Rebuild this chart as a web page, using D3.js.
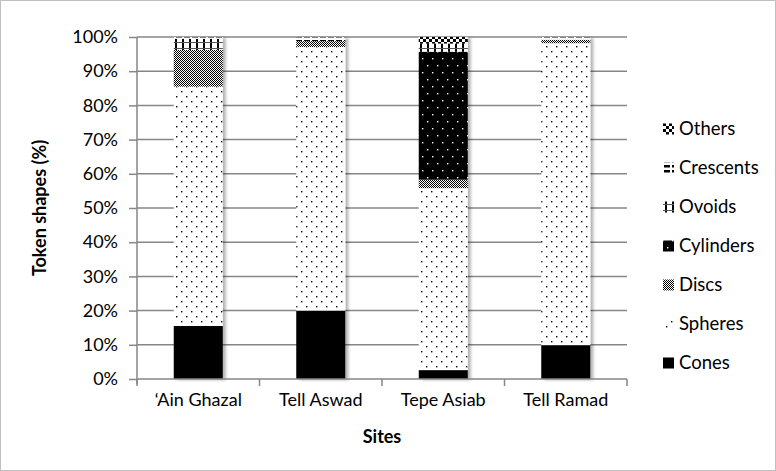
<!DOCTYPE html>
<html><head><meta charset="utf-8">
<script src="https://cdn.jsdelivr.net/npm/d3@7"></script>
<style>body{margin:0;background:#fff}svg{display:block}text{font-family:Lato,"Open Sans",sans-serif;fill:#000}</style>
</head><body><svg id="c" width="776" height="471"></svg>
<script>
const sites = ["\u2018Ain Ghazal","Tell Aswad","Tepe Asiab","Tell Ramad"];
const seriesNames = ["Cones","Spheres","Discs","Cylinders","Ovoids","Crescents","Others"];
const cones = [15.5, 20, 2.6, 9.9];
const spheres = [70, 77.1, 53.2, 88.3];
const discs = [10.7, 1.7, 2.5, 1.0];
const cylinders = [0, 0, 37.4, 0];
const ovoids = [3.3, 0, 2.4, 0];
const crescents = [0.5, 1.2, 0, 0.8];
const others = [0, 0, 1.9, 0];
const yTicks = [0,10,20,30,40,50,60,70,80,90,100];

const seriesValues = [cones, spheres, discs, cylinders, ovoids, crescents, others];
const rows = sites.map((s,i)=>{const r={site:s}; seriesNames.forEach((n,k)=>r[n]=seriesValues[k][i]); return r;});
const stack = d3.stack().keys(seriesNames)(rows);

const svg = d3.select("#c");
svg.append("rect").attr("x",0.5).attr("y",0.5).attr("width",775).attr("height",470).attr("fill","#fff").attr("stroke","#bfbfbf");

const defs = svg.append("defs");
const f = defs.append("filter").attr("id","sh").attr("x","-20%").attr("y","-5%").attr("width","140%").attr("height","110%");
f.append("feDropShadow").attr("dx",3).attr("dy",1).attr("stdDeviation",1.5).attr("flood-color","#000").attr("flood-opacity",0.3);

function pat(id,w,h,build){const p=defs.append("pattern").attr("id",id).attr("patternUnits","userSpaceOnUse").attr("width",w).attr("height",h);build(p);}
pat("p-Cones",4,4,p=>p.append("rect").attr("width",4).attr("height",4).attr("fill","#000"));
pat("p-Spheres",10,10,p=>{p.append("rect").attr("width",10).attr("height",10).attr("fill","#fff");
  p.append("rect").attr("x",1).attr("y",1).attr("width",1.4).attr("height",1.4).attr("fill","#000");
  p.append("rect").attr("x",6).attr("y",6).attr("width",1.4).attr("height",1.4).attr("fill","#000");});
pat("p-Discs",2,2,p=>{p.append("rect").attr("width",2).attr("height",2).attr("fill","#fff");
  p.append("rect").attr("width",1).attr("height",1).attr("fill","#000");
  p.append("rect").attr("x",1).attr("y",1).attr("width",1).attr("height",1).attr("fill","#000");});
pat("p-Cylinders",10,14,p=>{p.append("rect").attr("width",10).attr("height",14).attr("fill","#000");
  p.append("rect").attr("x",2).attr("y",2).attr("width",1.4).attr("height",1.4).attr("fill","#fff");
  p.append("rect").attr("x",7).attr("y",9).attr("width",1.4).attr("height",1.4).attr("fill","#fff");});
pat("p-Ovoids",7,6,p=>{p.append("rect").attr("width",7).attr("height",6).attr("fill","#fff");
  p.append("rect").attr("x",0).attr("y",0).attr("width",2).attr("height",6).attr("fill","#000");
  p.append("rect").attr("x",0).attr("y",0).attr("width",7).attr("height",1).attr("fill","#555");});
pat("p-Crescents",8,5,p=>{p.append("rect").attr("width",8).attr("height",5).attr("fill","#fff");
  p.append("rect").attr("x",0).attr("y",0).attr("width",6).attr("height",2.5).attr("fill","#000");});
pat("p-Others",6,6,p=>{p.append("rect").attr("width",6).attr("height",6).attr("fill","#fff");
  p.append("rect").attr("width",3).attr("height",3).attr("fill","#000");
  p.append("rect").attr("x",3).attr("y",3).attr("width",3).attr("height",3).attr("fill","#000");});

const x = d3.scaleBand().domain(sites).range([137,627]).paddingInner(0.6).paddingOuter(0.3);
const y = d3.scaleLinear().domain([0,100]).range([379,37]);
const grey = "#868686";

// gridlines
svg.append("g").selectAll("line").data(yTicks.filter(t=>t>0)).join("line")
  .attr("x1",137).attr("x2",627).attr("y1",d=>y(d)).attr("y2",d=>y(d))
  .attr("stroke",grey).attr("stroke-width",1.5);

// bars
const bars = svg.append("g");
sites.forEach((s,i)=>{
  const g = bars.append("g").attr("filter","url(#sh)");
  stack.forEach(layer=>{
    const d = layer[i];
    if (d[1]-d[0] <= 0) return;
    g.append("rect").attr("x",x(s)).attr("width",x.bandwidth())
      .attr("y",y(d[1])).attr("height",y(d[0])-y(d[1]))
      .attr("fill",`url(#p-${layer.key})`);
  });
});

// y axis
const ya = svg.append("g").attr("transform","translate(137,0)")
  .call(d3.axisLeft(y).tickValues(yTicks).tickFormat(d=>d+"%").tickSize(8).tickPadding(11));
ya.select(".domain").attr("stroke",grey).attr("stroke-width",1.5).attr("d","M0,37V384");
ya.selectAll(".tick line").attr("stroke",grey).attr("stroke-width",1.5);
ya.selectAll("text").attr("font-size",18).attr("font-family","Lato");

// x axis
const xa = svg.append("g").attr("transform","translate(0,379)")
  .call(d3.axisBottom(x).tickSize(0).tickPadding(14));
xa.select(".domain").attr("stroke",grey).attr("stroke-width",1.5).attr("d","M137,0H627");
xa.selectAll("text").attr("font-size",18).attr("font-family","Lato");
const bounds = [137].concat(sites.map(s=>x(s)+x.bandwidth()/2+x.step()/2));
svg.append("g").selectAll("line").data(bounds).join("line")
  .attr("x1",d=>d).attr("x2",d=>d).attr("y1",379).attr("y2",386)
  .attr("stroke",grey).attr("stroke-width",1.5);

// titles
svg.append("text").attr("x",382).attr("y",443).attr("text-anchor","middle")
  .attr("font-size",18).attr("font-weight","bold").text("Sites");
svg.append("text").attr("transform","translate(46,208) rotate(-90)").attr("text-anchor","middle")
  .attr("font-size",18).attr("font-weight","bold").text("Token shapes (%)");

// legend
const legendOrder = seriesNames.slice().reverse();
const lg = svg.append("g");
legendOrder.forEach((n,k)=>{
  const cy = 129 + k*39;
  lg.append("rect").attr("x",663).attr("y",cy-5.5).attr("width",11).attr("height",11).attr("fill",`url(#p-${n})`);
  lg.append("text").attr("x",679).attr("y",cy).attr("dy","0.35em").attr("font-size",18.5).text(n);
});
</script></body></html>
